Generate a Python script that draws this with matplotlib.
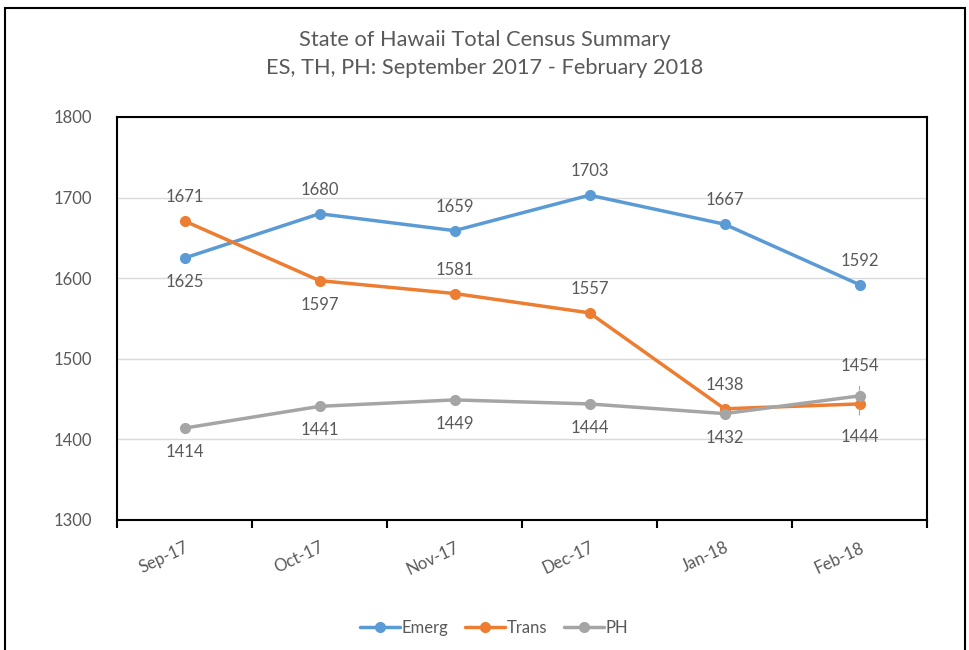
import matplotlib
matplotlib.use("Agg")
import matplotlib.pyplot as plt
from matplotlib.patches import Rectangle

plt.rcParams['font.family'] = ['Lato', 'DejaVu Sans']

months = ["Sep-17", "Oct-17", "Nov-17", "Dec-17", "Jan-18", "Feb-18"]
emerg = [1625, 1680, 1659, 1703, 1667, 1592]
trans = [1671, 1597, 1581, 1557, 1438, 1444]
ph = [1414, 1441, 1449, 1444, 1432, 1454]

# label placement: +1 above, -1 below
emerg_pos = [-1, 1, 1, 1, 1, 1]
trans_pos = [1, -1, 1, 1, 1, -1]
ph_pos = [-1, -1, -1, -1, -1, 1]

colors = {"Emerg": "#5B9BD5", "Trans": "#ED7D31", "PH": "#A5A5A5"}
txt = "#595959"

fig = plt.figure(figsize=(9.69, 6.5), dpi=100)
ax = fig.add_axes([117/969, 1-520/650, (927-117)/969, (520-117)/650])

x = list(range(len(months)))
for name, vals, pos in [("Emerg", emerg, emerg_pos), ("Trans", trans, trans_pos), ("PH", ph, ph_pos)]:
    ax.plot(x, vals, color=colors[name], lw=2.5, marker='o', ms=7, label=name, zorder=3,
            solid_capstyle='round')
    for i, (v, p) in enumerate(zip(vals, pos)):
        if i == 5 and name in ("Trans", "PH"):
            continue
        ax.annotate(str(v), (i, v), xytext=(0, 24*p), textcoords='offset pixels',
                    ha='center', va='center', fontsize=12, color=txt)

# Feb-18 labels with leader lines
ax.annotate(str(ph[5]), (5, ph[5]), xytext=(0, 30), textcoords='offset pixels',
            ha='center', va='center', fontsize=12, color=txt,
            arrowprops=dict(arrowstyle='-', color='#A5A5A5', lw=0.8, shrinkA=7, shrinkB=4))
ax.annotate(str(trans[5]), (5, trans[5]), xytext=(0, -33), textcoords='offset pixels',
            ha='center', va='center', fontsize=12, color=txt,
            arrowprops=dict(arrowstyle='-', color='#A5A5A5', lw=0.8, shrinkA=8, shrinkB=3))

ax.set_xlim(-0.5, 5.5)
ax.set_ylim(1300, 1800)
ax.set_yticks([1300, 1400, 1500, 1600, 1700, 1800])
ax.grid(axis='y', color='#D9D9D9', lw=1)
ax.set_axisbelow(True)
for s in ax.spines.values():
    s.set_color('black')
    s.set_linewidth(1.5)

ax.set_xticks(x)
ax.set_xticklabels(months, rotation=25, ha='right', rotation_mode='anchor', fontsize=12, color=txt)
ax.set_xticks([i - 0.5 for i in range(7)], minor=True)
ax.tick_params(axis='x', which='major', length=0, pad=14)
ax.tick_params(axis='x', which='minor', length=6, width=1.5, direction='out', color='black')
ax.tick_params(axis='y', length=0, labelsize=12, labelcolor=txt, pad=18)

fig.text(0.5, 1-40/650, "State of Hawaii Total Census Summary", ha='center', va='center',
         fontsize=15.7, color=txt)
fig.text(0.5, 1-68/650, "ES, TH, PH: September 2017 - February 2018", ha='center', va='center',
         fontsize=15.7, color=txt)

fig.legend(loc='center', bbox_to_anchor=(0.51, 1-628/650), ncol=3, frameon=False,
           fontsize=12, labelcolor=txt, handlelength=2.4, handletextpad=0.1, columnspacing=1.0)

fig.patches.append(Rectangle((5/969, -0.05), (965-5)/969, 1-8/650+0.05, transform=fig.transFigure,
                             fill=False, edgecolor='black', lw=1.5, clip_on=False))

fig.savefig("out.png", dpi=100)
